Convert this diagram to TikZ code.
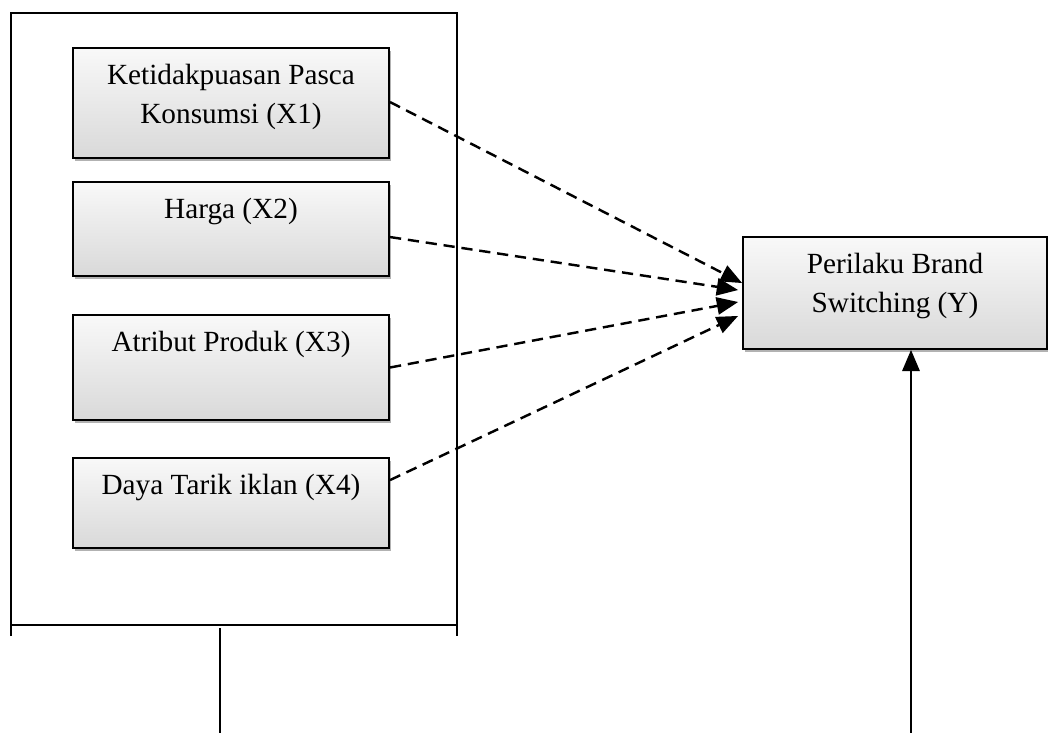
\documentclass[tikz,border=0pt]{standalone}
\usepackage{fontspec}
\setmainfont{Liberation Serif}
\usepackage{tikz}
\usetikzlibrary{positioning, shadows, arrows}

\tikzset{
  varbox/.style={draw, line width=0.8pt, rectangle, top color=gray!5, bottom color=gray!30,
    drop shadow={shadow xshift=1pt, shadow yshift=-1.2pt, fill=gray!60, opacity=1}},
  vartext/.style={font=\fontsize{12}{16}\selectfont, align=center, inner sep=3.3pt},
  dasharrow/.style={->, >=triangle 45, dashed, dash pattern=on 4.6pt off 2.8pt, line width=1pt},
  frameline/.style={line width=0.85pt}
}

\begin{document}
\begin{tikzpicture}[x=0.41pt, y=-0.41pt]
  \useasboundingbox (0,0) rectangle (1048,733);

  % frame round the independent variables
  \coordinate (ftl) at (11,13);
  \coordinate (ftr) at (457,13);
  \coordinate (fbl) at (11,636);
  \coordinate (fbr) at (457,636);
  \coordinate (fml) at (11,625);
  \coordinate (fmr) at (457,625);
  \draw[frameline] (fbl) -- (ftl) -- (ftr) -- (fbr);
  \draw[frameline] (fml) -- (fmr);
  \coordinate (ftop) at (220,628);
  \coordinate (fend) at (220,733);
  \draw[frameline] (ftop) -- (fend);

  % independent variables
  \node[varbox, minimum width=129.6pt, minimum height=45.1pt] at (231,103) (x1) {};
  \node[vartext, below=3.5pt of x1.north] (t1) {Ketidakpuasan Pasca\\Konsumsi (X1)};
  \node[varbox, minimum width=129.6pt, minimum height=38.5pt] at (231,229) (x2) {};
  \node[vartext, below=3.5pt of x2.north] (t2) {Harga (X2)};
  \node[varbox, minimum width=129.6pt, minimum height=43pt] at (231,367.5) (x3) {};
  \node[vartext, below=3.5pt of x3.north] (t3) {Atribut Produk (X3)};
  \node[varbox, minimum width=129.6pt, minimum height=36.9pt] at (231,503) (x4) {};
  \node[vartext, below=3.5pt of x4.north] (t4) {Daya Tarik iklan (X4)};

  % dependent variable
  \node[varbox, minimum width=124.6pt, minimum height=45.9pt] at (895,293) (y) {};
  \node[vartext, below=3.5pt of y.north] (ty) {Perilaku Brand\\Switching (Y)};

  \coordinate (e1) at (742,283);
  \coordinate (e2) at (738,290);
  \coordinate (e3) at (738,302);
  \coordinate (e4) at (738,316);
  \draw[dasharrow] ([yshift=0.4pt]x1.east) -- (e1);
  \draw[dasharrow] ([yshift=-3.3pt]x2.east) -- (e2);
  \draw[dasharrow] (x3.east) -- (e3);
  \draw[dasharrow] ([yshift=9.4pt]x4.east) -- (e4);

  \coordinate (ystart) at (911,733);
  \draw[->, >=triangle 45, line width=1pt] (ystart) -- (ystart |- y.south);
\end{tikzpicture}
\end{document}
